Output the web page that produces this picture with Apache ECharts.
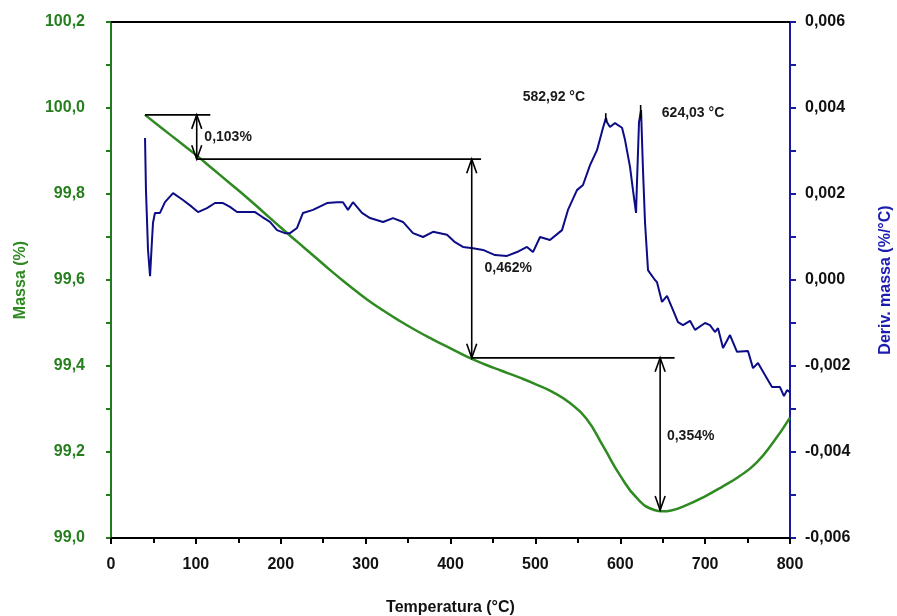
<!DOCTYPE html>
<html>
<head>
<meta charset="utf-8">
<script src="https://cdn.jsdelivr.net/npm/echarts@6/dist/echarts.min.js"></script>
<style>
  html, body { margin: 0; padding: 0; background: #fff; }
  #chart { width: 897px; height: 616px; }
</style>
</head>
<body>
<div id="chart"></div>
<script>
// mass curve (TG)
const massTemp = [40, 60, 80, 100, 120, 140, 160, 180, 200, 220, 240, 260, 280, 300, 320, 340, 360, 380, 400, 420,
  440, 460, 480, 500, 520, 540, 560, 580, 600, 620, 640, 650, 660, 680, 700, 720, 740, 760, 780, 800]
const massValues = [99.984, 99.953, 99.922, 99.891, 99.858, 99.825, 99.792, 99.757, 99.722, 99.688, 99.654, 99.620,
  99.588, 99.557, 99.530, 99.505, 99.482, 99.461, 99.441, 99.421, 99.404, 99.389, 99.374, 99.358, 99.340, 99.315,
  99.278, 99.213, 99.145, 99.092, 99.065, 99.062, 99.064, 99.078, 99.097, 99.119, 99.143, 99.174, 99.222, 99.280]

// derivative curve (DTG)
const dtgTemp = [40.1, 41.2, 42.4, 43.6, 46.0, 48.3, 49.5, 51.8, 57.7, 63.6, 73.1, 84.8, 95.4, 102.5, 113.1, 122.5,
  132.0, 140.2, 148.5, 160.2, 169.7, 177.9, 187.3, 195.6, 205.0, 210.9, 219.2, 226.2, 238.0, 254.5, 266.3, 273.3,
  279.2, 285.1, 295.7, 305.2, 320.5, 332.3, 344.0, 355.8, 367.6, 379.4, 395.9, 405.3, 414.7, 426.5, 438.3, 452.4,
  466.6, 478.4, 490.1, 497.2, 505.5, 517.2, 531.4, 538.4, 549.0, 556.1, 564.4, 572.6, 579.7, 583.2, 584.4, 587.9,
  593.8, 602.1, 605.6, 611.5, 615.0, 618.6, 619.7, 622.1, 624.5, 626.8, 629.2, 632.7, 635.1, 640.9, 643.3, 649.2,
  655.1, 662.2, 668.0, 673.9, 682.2, 688.1, 699.9, 705.7, 711.6, 715.2, 721.1, 729.3, 737.6, 750.5, 756.4, 762.3,
  770.5, 778.8, 788.2, 792.9, 796.5, 800.0]
const dtgValues = [0.00330, 0.00209, 0.00140, 0.00070, 0.00009, 0.00093, 0.00133, 0.00156, 0.00156, 0.00181,
  0.00202, 0.00186, 0.00170, 0.00158, 0.00167, 0.00179, 0.00179, 0.00170, 0.00158, 0.00158, 0.00158, 0.00147,
  0.00135, 0.00116, 0.00109, 0.00109, 0.00121, 0.00156, 0.00163, 0.00179, 0.00181, 0.00181, 0.00163, 0.00181,
  0.00156, 0.00144, 0.00135, 0.00144, 0.00135, 0.00109, 0.00100, 0.00112, 0.00105, 0.00088, 0.00077, 0.00074,
  0.00070, 0.00058, 0.00056, 0.00065, 0.00077, 0.00065, 0.00100, 0.00093, 0.00116, 0.00163, 0.00209, 0.00221,
  0.00267, 0.00302, 0.00354, 0.00377, 0.00367, 0.00356, 0.00365, 0.00354, 0.00326, 0.00263, 0.00209, 0.00156,
  0.00226, 0.00367, 0.00395, 0.00256, 0.00133, 0.00023, 0.00016, 0.00000, -0.00005, -0.00051, -0.00037, -0.00070,
  -0.00098, -0.00105, -0.00095, -0.00116, -0.00100, -0.00105, -0.00121, -0.00112, -0.00158, -0.00128, -0.00167,
  -0.00165, -0.00205, -0.00193, -0.00221, -0.00249, -0.00249, -0.00270, -0.00256, -0.00261]

// step annotations: horizontal levels [tStart, tEnd, mass], arrows [t, massTop, massBottom]
const levelLines = [[40, 117, 99.984], [101, 436, 99.881], [425, 664, 99.419]]
const stepArrows = [[101, 99.984, 99.881], [425, 99.881, 99.419], [647, 99.419, 99.065]]
const stepLabels = ['0,103%', '0,462%', '0,354%']
const stepLabelPos = [[110, 99.933], [440, 99.628], [655, 99.237]]

// DTG peak marks [t, dLow, dHigh] and their labels
const peakMarks = [[582.92, 0.00368, 0.00388], [624.03, 0.00375, 0.00407]]
const peakLabels = ['582,92 °C', '624,03 °C']
const peakLabelPos = [[485, 0.00426], [649, 0.00388]]

const FONT = '"Liberation Sans", Arial, sans-serif'
const GREEN = '#2f8a22'
const BLUE = '#0c0c86'

const chart = echarts.init(document.getElementById('chart'))

function fmtComma (v, d) {
  if (Math.abs(v) < 1e-9) v = 0
  return v.toFixed(d).replace('.', ',')
}

function chevron (x, y, dir) {
  // dir = -1 points up, 1 points down
  return {
    type: 'polyline',
    shape: { points: [[x - 5, y - dir * 14], [x, y], [x + 5, y - dir * 14]] },
    style: { stroke: '#000', lineWidth: 1.6, fill: null }
  }
}

chart.setOption({
  animation: false,
  grid: { left: 111, right: 107, top: 22, bottom: 78, containLabel: false, outerBoundsMode: 'none' },
  xAxis: [{
    type: 'value',
    min: 0,
    max: 800,
    interval: 100,
    position: 'bottom',
    name: 'Temperatura (°C)',
    nameLocation: 'middle',
    nameGap: 62,
    nameTextStyle: { color: '#111', fontWeight: 'bold', fontSize: 16, fontFamily: FONT },
    axisLine: { onZero: false, lineStyle: { color: '#000', width: 2 } },
    axisTick: { length: 6, lineStyle: { color: '#000', width: 2 } },
    minorTick: { show: true, splitNumber: 2, length: 5, lineStyle: { color: '#000', width: 2 } },
    splitLine: { show: false },
    axisLabel: { color: '#111', fontWeight: 'bold', fontSize: 16, fontFamily: FONT, margin: 19 }
  }, {
    type: 'value',
    min: 0,
    max: 800,
    position: 'top',
    axisLine: { onZero: false, lineStyle: { color: '#000', width: 2 } },
    axisTick: { show: false },
    axisLabel: { show: false },
    splitLine: { show: false }
  }],
  yAxis: [{
    type: 'value',
    min: 99.0,
    max: 100.2,
    interval: 0.2,
    position: 'left',
    name: 'Massa (%)',
    nameLocation: 'middle',
    nameRotate: 90,
    nameGap: 82,
    nameTextStyle: { color: GREEN, fontWeight: 'bold', fontSize: 16, fontFamily: FONT },
    axisLine: { show: true, onZero: false, lineStyle: { color: '#237a1c', width: 2 } },
    axisTick: { show: true, length: 5, lineStyle: { color: '#237a1c', width: 2 } },
    minorTick: { show: true, splitNumber: 2, length: 5, lineStyle: { color: '#237a1c', width: 2 } },
    splitLine: { show: false },
    axisLabel: {
      color: '#257f1d', fontWeight: 'bold', fontSize: 16, fontFamily: FONT, margin: 26,
      formatter: v => fmtComma(v, 1)
    }
  }, {
    type: 'value',
    min: -0.006,
    max: 0.006,
    interval: 0.002,
    position: 'right',
    name: 'Deriv. massa (%/°C)',
    nameLocation: 'middle',
    nameRotate: 90,
    nameGap: 88,
    nameTextStyle: { color: '#1c1cb0', fontWeight: 'bold', fontSize: 16, fontFamily: FONT },
    axisLine: { show: true, onZero: false, lineStyle: { color: '#1a1aa0', width: 2 } },
    axisTick: { show: true, length: 6, lineStyle: { color: '#1a1aa0', width: 2 } },
    minorTick: { show: true, splitNumber: 2, length: 6, lineStyle: { color: '#1a1aa0', width: 2 } },
    splitLine: { show: false },
    axisLabel: {
      color: '#111', fontWeight: 'bold', fontSize: 16, fontFamily: FONT, margin: 15,
      formatter: v => fmtComma(v, 3)
    }
  }],
  series: [{
    name: 'Massa',
    type: 'line',
    xAxisIndex: 0,
    yAxisIndex: 0,
    smooth: true,
    showSymbol: false,
    lineStyle: { color: GREEN, width: 2.5 },
    data: massTemp.map((t, i) => [t, massValues[i]])
  }, {
    name: 'Deriv. massa',
    type: 'line',
    xAxisIndex: 0,
    yAxisIndex: 1,
    showSymbol: false,
    lineStyle: { color: BLUE, width: 2 },
    data: dtgTemp.map((t, i) => [t, dtgValues[i]])
  }, {
    // horizontal step levels
    type: 'custom',
    xAxisIndex: 0,
    yAxisIndex: 0,
    silent: true,
    z: 5,
    data: levelLines,
    renderItem: (params, api) => {
      const a = api.coord([api.value(0), api.value(2)])
      const b = api.coord([api.value(1), api.value(2)])
      return {
        type: 'line',
        shape: { x1: a[0], y1: a[1], x2: b[0], y2: b[1] },
        style: { stroke: '#000', lineWidth: 1.6 }
      }
    }
  }, {
    // double-headed arrows
    type: 'custom',
    xAxisIndex: 0,
    yAxisIndex: 0,
    silent: true,
    z: 5,
    data: stepArrows,
    renderItem: (params, api) => {
      const top = api.coord([api.value(0), api.value(1)])
      const bot = api.coord([api.value(0), api.value(2)])
      return {
        type: 'group',
        children: [
          { type: 'line', shape: { x1: top[0], y1: top[1], x2: bot[0], y2: bot[1] }, style: { stroke: '#000', lineWidth: 1.6 } },
          chevron(top[0], top[1], -1),
          chevron(bot[0], bot[1], 1)
        ]
      }
    }
  }, {
    // step labels
    type: 'custom',
    xAxisIndex: 0,
    yAxisIndex: 0,
    silent: true,
    z: 6,
    data: stepLabelPos,
    renderItem: (params, api) => {
      const p = api.coord([api.value(0), api.value(1)])
      return {
        type: 'text',
        style: {
          text: stepLabels[params.dataIndex], x: p[0], y: p[1],
          fill: '#1a1a1a', font: 'bold 14px ' + FONT, align: 'left', verticalAlign: 'middle'
        }
      }
    }
  }, {
    // DTG peak ticks
    type: 'custom',
    xAxisIndex: 0,
    yAxisIndex: 1,
    silent: true,
    z: 5,
    data: peakMarks,
    renderItem: (params, api) => {
      const a = api.coord([api.value(0), api.value(1)])
      const b = api.coord([api.value(0), api.value(2)])
      return {
        type: 'line',
        shape: { x1: a[0], y1: a[1], x2: b[0], y2: b[1] },
        style: { stroke: '#000', lineWidth: 1.6 }
      }
    }
  }, {
    // DTG peak labels
    type: 'custom',
    xAxisIndex: 0,
    yAxisIndex: 1,
    silent: true,
    z: 6,
    data: peakLabelPos,
    renderItem: (params, api) => {
      const p = api.coord([api.value(0), api.value(1)])
      return {
        type: 'text',
        style: {
          text: peakLabels[params.dataIndex], x: p[0], y: p[1],
          fill: '#1a1a1a', font: 'bold 14px ' + FONT, align: 'left', verticalAlign: 'middle'
        }
      }
    }
  }]
})
</script>
</body>
</html>
